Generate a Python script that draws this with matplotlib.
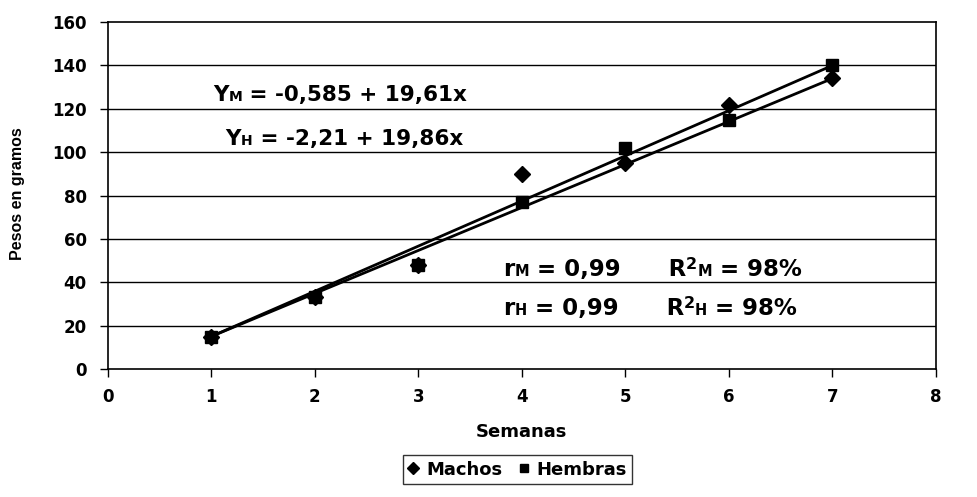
import matplotlib
matplotlib.use("Agg")
import matplotlib.pyplot as plt
import matplotlib.transforms as mtransforms

plt.rcParams['font.family'] = ['DejaVu Sans']

# ---- data ----
weeks = [1, 2, 3, 4, 5, 6, 7]
machos = [15, 33, 48, 90, 95, 122, 134]
hembras = [15, 33, 48, 77, 102, 115, 140]
trend_x = [1, 7]
trend_machos = [15, 134]
trend_hembras = [15, 140]
yticks = [0, 20, 40, 60, 80, 100, 120, 140, 160]
xticks = [0, 1, 2, 3, 4, 5, 6, 7, 8]
xlabel = "Semanas"
ylabel = "Pesos en gramos"
eq_machos = [("Y", 15.5, 0), ("M", 10, 0), (" = -0,585 + 19,61x", 15.5, 0)]
eq_hembras = [("Y", 15.5, 0), ("H", 10, 0), (" = -2,21 + 19,86x", 15.5, 0)]
stat_machos = [("r", 16.5, 0), ("M", 10.5, 0), (" = 0,99      R", 16.5, 0), ("2", 11.5, 5),
               ("M", 10.5, 0), (" = 98%", 16.5, 0)]
stat_hembras = [("r", 16.5, 0), ("H", 10.5, 0), (" = 0,99      R", 16.5, 0), ("2", 11.5, 5),
                ("H", 10.5, 0), (" = 98%", 16.5, 0)]

fig = plt.figure(figsize=(9.78, 4.97), dpi=100)
ax = fig.add_axes([0.110, 0.2575, 0.847, 0.698])

for y in yticks[1:-1]:
    ax.axhline(y, color='black', lw=1.0, zorder=1)

ax.plot(trend_x, trend_hembras, color='black', lw=2, zorder=2)
ax.plot(trend_x, trend_machos, color='black', lw=2, zorder=2)
ax.plot(weeks, machos, linestyle='none', marker='D', ms=8, color='black',
        label='Machos', zorder=3)
ax.plot(weeks, hembras, linestyle='none', marker='s', ms=8, color='black',
        label='Hembras', zorder=3)

ax.set_xlim(0, 8)
ax.set_ylim(0, 160)
ax.set_xticks(xticks)
ax.set_yticks(yticks)
ax.tick_params(direction='out', length=6, width=1, labelsize=12)
ax.tick_params(axis='y', pad=9)
ax.tick_params(axis='x', pad=8)
for lab in ax.get_xticklabels() + ax.get_yticklabels():
    lab.set_fontweight('bold')
for s in ax.spines.values():
    s.set_linewidth(1.2)
    s.set_color('black')

ax.set_xlabel(xlabel, fontsize=13, fontweight='bold', labelpad=12)
fig.text(0.018, 0.61, ylabel, rotation=90, fontsize=11.5, fontweight='bold',
         ha='center', va='center', family='Liberation Sans')

leg = fig.legend(loc='center', bbox_to_anchor=(0.529, 0.055), ncol=2,
                 frameon=True, fancybox=False, fontsize=13, handlelength=0.6,
                 handletextpad=0.4, columnspacing=0.9, borderpad=0.3,
                 markerscale=0.75)
leg.get_frame().set_edgecolor('black')
leg.get_frame().set_linewidth(1.0)
for t in leg.get_texts():
    t.set_fontweight('bold')

renderer = fig.canvas.get_renderer()


def rich(x, y, parts):
    offset = 0.0
    for s, size, dy in parts:
        tr = mtransforms.offset_copy(ax.transData, fig=fig, x=offset / fig.dpi,
                                     y=dy / 72.0, units='inches')
        t = ax.text(x, y, s, fontsize=size, fontweight='bold', va='baseline',
                    ha='left', transform=tr, zorder=4)
        offset += t.get_window_extent(renderer).width


rich(1.02, 123.5, eq_machos)
rich(1.14, 103.5, eq_hembras)
rich(3.82, 43, stat_machos)
rich(3.82, 25, stat_hembras)

fig.savefig("out.png", dpi=100)
